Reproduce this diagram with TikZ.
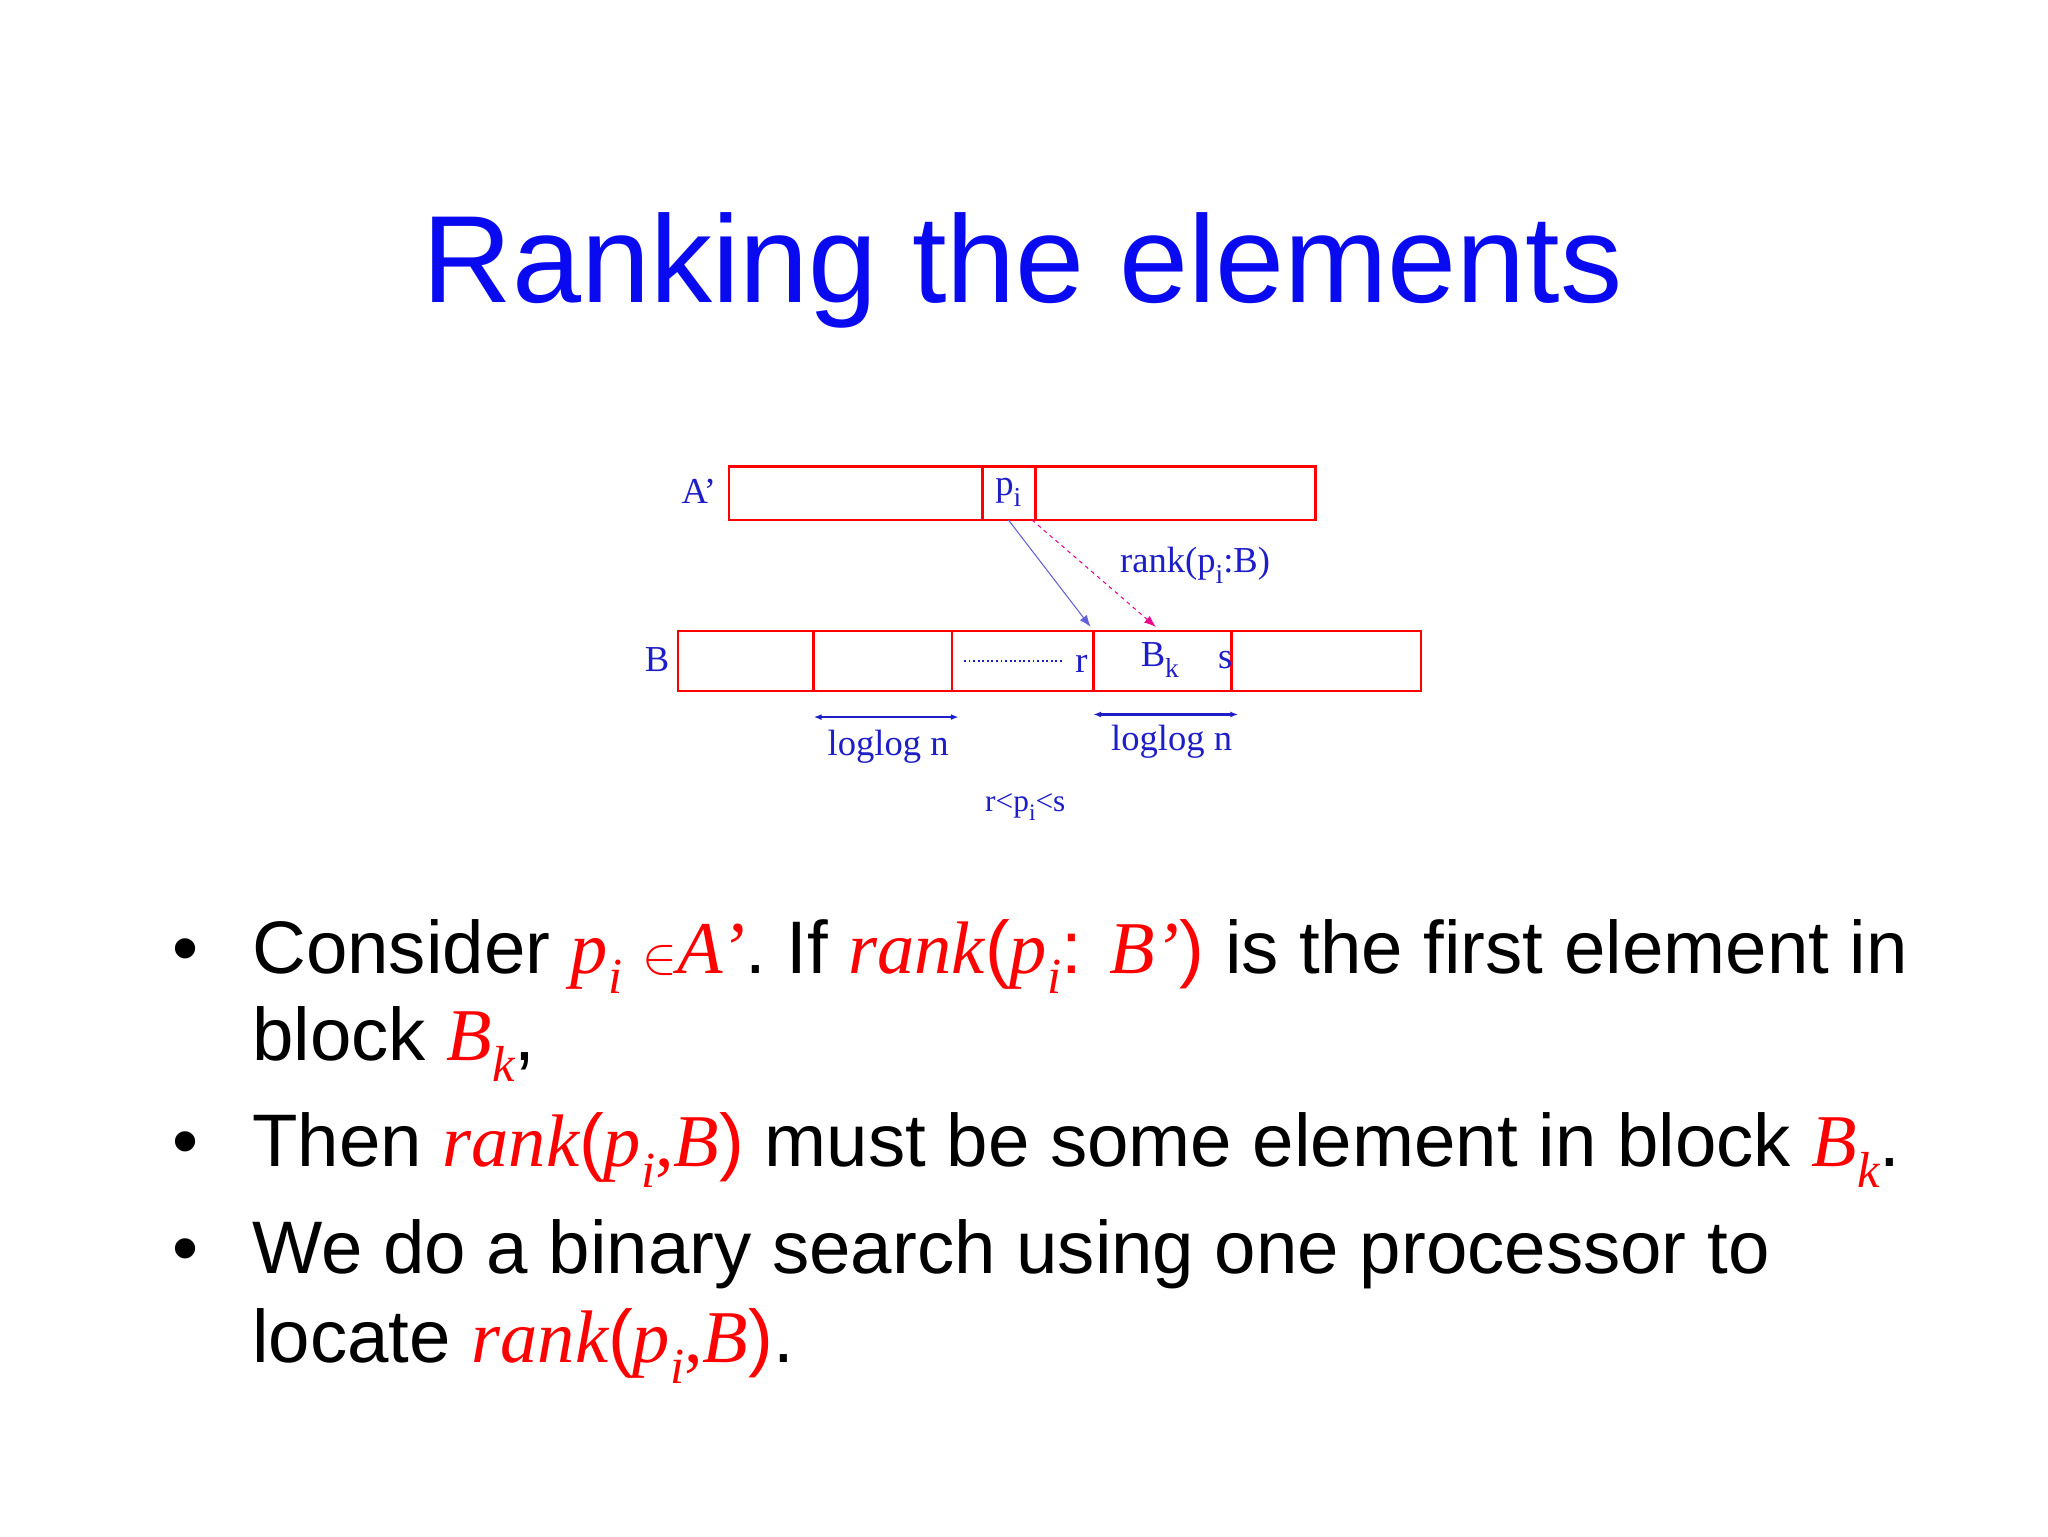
\documentclass[tikz,border=0pt]{standalone}
\usepackage{fontspec}
\setmainfont{Liberation Sans}
\newfontfamily\tms{Liberation Serif}
\usetikzlibrary{arrows.meta}
\definecolor{tblue}{RGB}{10,10,240}
\definecolor{dblue}{RGB}{30,30,200}
\newcommand{\rv}[1]{{\color{red}\tms\itshape #1}}
\newcommand{\rs}[1]{{\color{red}\tms #1}}
\newcommand{\sbx}[1]{\raisebox{-0.28em}{\scalebox{0.68}{#1}}}
\newcommand{\dsb}[1]{\raisebox{-0.3em}{\scalebox{0.75}{#1}}}
\begin{document}
\begin{tikzpicture}[x=1pt,y=-1pt,
  box/.style={draw=red,line width=2pt},
  dl/.style={font=\tms\fontsize{28}{28}\selectfont,text=dblue,inner sep=0pt},
  bt/.style={font=\fontsize{57}{57}\selectfont,anchor=base west,inner sep=0pt},
  dimarr/.style={draw=dblue,line width=2pt,{Latex[length=6pt]}-{Latex[length=6pt]}}]
\useasboundingbox (0,0) rectangle (1568,1176);
\fill[white] (0,0) rectangle (1568,1176);
\node[font=\fontsize{95}{95}\selectfont,text=tblue,inner sep=0pt] (title) at (783,207) {Ranking the elements};
% A'
\draw[box] (558,357) rectangle (1007,398);
\draw[box] (752,357) -- (752,398) (793,357) -- (793,398);
\node[dl] (al) at (535,376) {A’};
\node[dl] (pi) at (772,377) {p\dsb{i}};
\coordinate (pa) at (772,398);
\coordinate (pb) at (790,398);
% B
\draw[box] (519,483) rectangle (1088,529);
\draw[box] (623,483) -- (623,529) (729,483) -- (729,529) (837,483) -- (837,529) (943,483) -- (943,529);
\node[dl] (bl) at (503,505) {B};
\draw[dblue,line width=1.5pt,dotted] (738,506) -- (815,506);
\node[dl] (r) at (828,508) {r};
\node[dl] (bk) at (888,505) {B\dsb{k}};
\node[dl] (s) at (938,505) {s};
\coordinate (ta) at (835,480);
\coordinate (tb) at (885,480);
\draw[dblue!70,line width=0.8pt,-{Latex[length=9pt]}] (pa) -- (ta);
\draw[magenta,line width=0.8pt,dashed,-{Latex[length=9pt]}] (pb) -- (tb);
\node[dl] (rk) at (915,433) {rank(p\dsb{i}:B)};
\coordinate (a1) at (623,549); \coordinate (a2) at (734,549);
\coordinate (a3) at (837,547); \coordinate (a4) at (948,547);
\draw[dimarr] (a1) -- (a2);
\draw[dimarr] (a3) -- (a4);
\node[dl] (l1) at (680,572) {loglog n};
\node[dl] (l2) at (897,568) {loglog n};
\node[dl,font=\tms\fontsize{24}{24}\selectfont] (rps) at (785,618) {r<p\dsb{i}<s};
% bullets
\node[bt] (b1) at (132,745) {•};
\node[bt] (t1) at (193,745) {Consider \rv{p\sbx{i}} {\color{red}\scalebox{1.6}{$\in$}}\rv{A’}. If \rv{rank}{\color{red}(}\rv{p\sbx{i}}{\color{red} : }\rv{B’}{\color{red})} is the first element in};
\node[bt] (t1b) at (193,812) {block \rv{B\sbx{k}},};
\node[bt] (b2) at (132,893) {•};
\node[bt] (t2) at (193,893) {Then \rv{rank}{\color{red}(}\rv{p\sbx{i}}\rs{,}\rv{B}{\color{red})} must be some element in block \rv{B\sbx{k}}.};
\node[bt] (b3) at (132,975) {•};
\node[bt] (t3) at (193,975) {We do a binary search using one processor to};
\node[bt] (t3b) at (193,1043) {locate \rv{rank}{\color{red}(}\rv{p\sbx{i}}\rs{,}\rv{B}{\color{red})}.};
\end{tikzpicture}
\end{document}
